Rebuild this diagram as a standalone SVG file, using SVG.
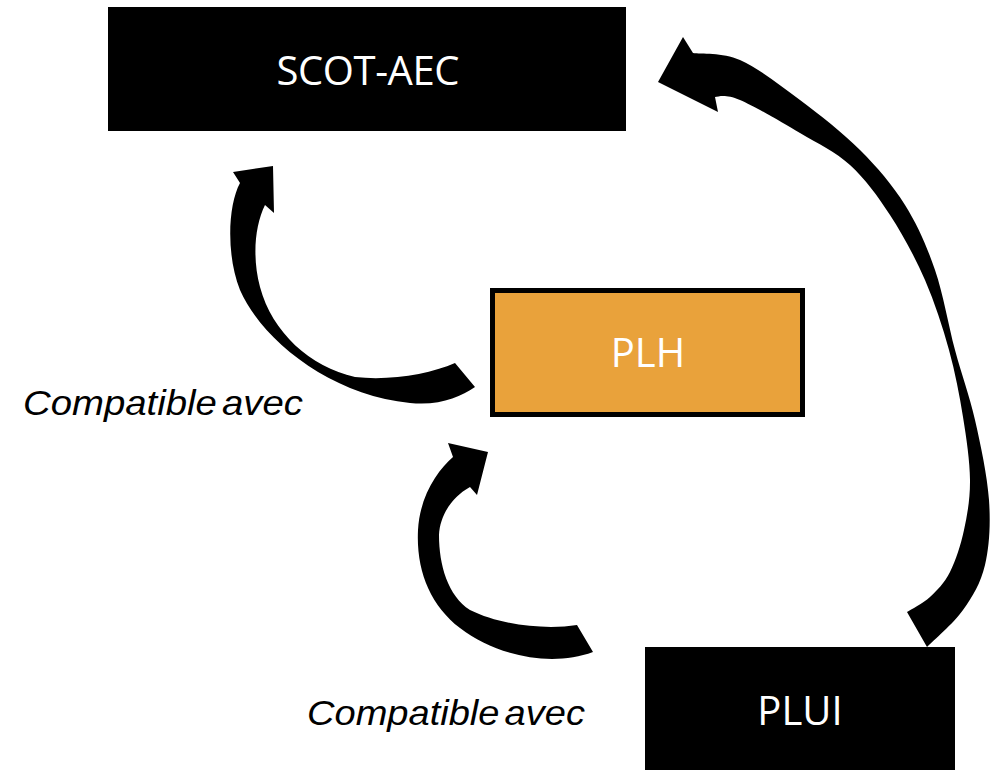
<svg xmlns="http://www.w3.org/2000/svg" width="999" height="770" viewBox="0 0 999 770">
<style>
.box{fill:#000}
.plh{fill:#E9A23B;stroke:#000;stroke-width:5}
.lbl{font-family:"Open Sans","Liberation Sans",sans-serif;font-size:40px;fill:#fff;text-anchor:middle}
.cap{font-family:"Liberation Sans",Arial,sans-serif;font-size:35px;font-style:italic;fill:#000;word-spacing:-5px}
.arr{fill:#000}
</style>
<rect width="999" height="770" fill="#fff"/>
<g id="connectors">
<path id="arrow-plh-scot" class="arr" d="M 240,183 C 228,205 226,255 240,290 C 262,340 330,395 410,403 C 440,406 460,397 475,387 L 455,363 C 430,374 390,381 355,377 C 310,367 272,332 260,287 C 252,257 255,225 265,205 L 274,213 L 273,166 L 233,172 Z"/>
<path id="arrow-plui-plh" class="arr" d="M 453,457 C 438,470 420,495 418,530 C 416,570 430,605 460,628 C 495,655 550,668 593,652 L 577,625 C 545,630 500,625 470,610 C 448,596 439,565 439,535 C 440,515 452,497 470,487 L 477,495 L 488,452 L 448,443 Z"/>
<path id="arrow-plui-scot" class="arr" d="M 693,53 C 700.8,54.2 722.2,52.2 740,60 C 757.8,67.8 780,85 800,100 C 820,115 842.5,132.5 860,150 C 877.5,167.5 892.5,185 905,205 C 917.5,225 926.7,245.8 935,270 C 943.3,294.2 948.3,325 955,350 C 961.7,375 969.3,395 975,420 C 980.7,445 987.3,475.8 989,500 C 990.7,524.2 989.3,546.7 985,565 C 980.7,583.3 972.7,596.3 963,610 C 953.3,623.7 933,640.8 927,647 L 907,612 C 910.8,609.5 922.8,603.7 930,597 C 937.2,590.3 944.3,583.2 950,572 C 955.7,560.8 960.7,545.3 964,530 C 967.3,514.7 970.2,498.8 970,480 C 969.8,461.2 966.5,438.7 963,417 C 959.5,395.3 955.3,372.8 949,350 C 942.7,327.2 934.8,302.5 925,280 C 915.2,257.5 902.5,234.2 890,215 C 877.5,195.8 865,178.7 850,165 C 835,151.3 818.3,143.8 800,133 C 781.7,122.2 754.2,106 740,100 C 725.8,94 719.2,96.5 715,97 L 718,112 L 658,82 L 683,37 Z"/>
</g>
<g id="node-scot">
<rect class="box" x="108" y="7" width="518" height="124"/>
<text class="lbl" x="368" y="85" textLength="183">SCOT-AEC</text>
</g>
<g id="node-plh">
<rect class="plh" x="492.5" y="290.5" width="310" height="124"/>
<text class="lbl" x="648" y="367">PLH</text>
</g>
<g id="node-plui">
<rect class="box" x="645" y="647" width="310" height="123"/>
<text class="lbl" x="800" y="725">PLUI</text>
</g>
<g id="labels">
<text class="cap" x="23" y="415" textLength="280" lengthAdjust="spacingAndGlyphs">Compatible avec</text>
<text class="cap" x="307" y="725" textLength="278" lengthAdjust="spacingAndGlyphs">Compatible avec</text>
</g>
</svg>
